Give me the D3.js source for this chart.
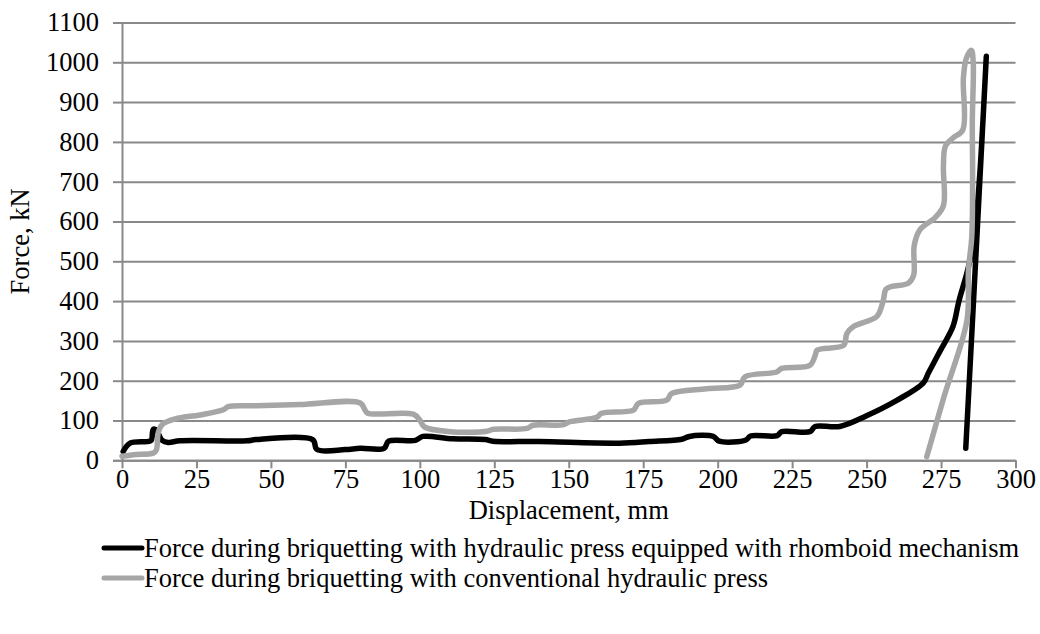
<!DOCTYPE html>
<html>
<head>
<meta charset="utf-8">
<script src="https://cdn.jsdelivr.net/npm/d3@7"></script>
<style>
    body { margin: 0; background: #fff; }
    svg text { font-family: "Liberation Serif", "Times New Roman", Tinos, "DejaVu Serif", serif; }
</style>
</head>
<body>
<div id="chart"></div>
<script>
// Displacement (mm) and force (kN)
let rhomboidDisp = [0.4, 2.7, 8.3, 9.8, 10.5, 11.5, 13.5, 15.5, 19.5, 42, 45, 64, 65.5, 75, 80, 88, 89.5, 98.5, 101, 111, 122, 124.5, 140, 167, 177, 188, 190.5, 198.5, 200.5, 209.5, 211, 220, 221.5, 231, 232.7, 241, 250, 260, 269, 270.8, 274.7, 279, 281, 284.2, 286.4, 288.1, 290.2, 283.3];
let rhomboidForce = [22, 43, 47, 50, 78, 76, 50, 45, 49, 49, 52, 52, 27, 27, 30, 30, 48, 50, 60, 54, 52, 48, 47, 43, 47, 53, 60, 60, 48, 51, 61, 62, 72, 72, 85, 85, 112, 150, 194, 220, 275, 336, 400, 486, 580, 729, 1015, 30];

let conventionalDisp = [0, 3.8, 10.5, 11.5, 12.2, 13.5, 18.4, 26.2, 34, 35.7, 45, 59.8, 80, 81.6, 82.5, 97.8, 100, 101.5, 110.2, 122.5, 124.7, 136, 138, 148, 150.4, 159.4, 161, 171.7, 173.4, 182.9, 184.6, 196.3, 207.5, 209.2, 219.8, 221.5, 231, 232.8, 233.4, 242.3, 243.4, 245.6, 253.4, 255, 255.7, 256.5, 258.5, 264, 265.8, 266, 268, 273, 275.8, 275.8, 276.5, 279, 282.3, 282.5, 283.5, 285.2, 285.8, 285.5, 285.6, 285.3, 284.2, 283.7, 276, 270.2];
let conventionalForce = [10, 14, 18, 25, 70, 90, 105, 114, 127, 135, 137, 140, 144, 126, 118, 116, 101, 84, 72, 73, 78, 80, 88, 89, 97, 108, 118, 126, 143, 151, 168, 180, 189, 210, 222, 231, 239, 265, 277, 289, 319, 336, 361, 386, 405, 430, 437, 445, 465, 540, 580, 610, 640, 740, 790, 810, 830, 960, 1010, 1030, 1000, 850, 700, 560, 478, 352, 160, 9];

let xTicks = [0, 25, 50, 75, 100, 125, 150, 175, 200, 225, 250, 275, 300];
let yTicks = [0, 100, 200, 300, 400, 500, 600, 700, 800, 900, 1000, 1100];

let seriesNames = [
    'Force during briquetting with hydraulic press equipped with rhomboid mechanism',
    'Force during briquetting with conventional hydraulic press'
];
let seriesColor = ['#000000', '#a6a6a6'];

let width = 1040;
let height = 634;
let margin = {top: 22.5, right: 24.5, bottom: 173.7, left: 122};
let plotW = width - margin.left - margin.right;
let plotH = height - margin.top - margin.bottom;
let gridColor = '#898989';
let fontSize = 26.5;

let svg = d3.select('#chart')
    .append('svg')
    .attr('width', width)
    .attr('height', height);

let plot = svg.append('g')
    .attr('transform', 'translate(' + margin.left + ',' + margin.top + ')');

// Scales
let x = d3.scaleLinear().domain([0, 300]).range([0, plotW]);
let y = d3.scaleLinear().domain([0, 1100]).range([plotH, 0]);

// Horizontal gridlines with left tick stubs
let yAxis = plot.append('g')
    .call(d3.axisLeft(y).tickValues(yTicks).tickSize(9).tickPadding(14).tickFormat(d3.format('d')));
yAxis.attr('font-family', null);
yAxis.select('.domain').attr('stroke', gridColor).attr('stroke-width', 2);
yAxis.selectAll('.tick line').attr('stroke', gridColor).attr('stroke-width', 2);
yAxis.selectAll('.tick')
    .append('line')
    .attr('x1', 0)
    .attr('x2', plotW)
    .attr('stroke', gridColor)
    .attr('stroke-width', 2);
yAxis.selectAll('.tick text')
    .attr('font-size', fontSize)
    .attr('fill', '#000');

// X axis with ticks hanging below
let xAxis = plot.append('g')
    .attr('transform', 'translate(0,' + plotH + ')')
    .call(d3.axisBottom(x).tickValues(xTicks).tickSize(8).tickPadding(1).tickSizeOuter(0));
xAxis.attr('font-family', null);
xAxis.select('.domain').attr('stroke', gridColor).attr('stroke-width', 2);
xAxis.selectAll('.tick line').attr('stroke', gridColor).attr('stroke-width', 2);
xAxis.selectAll('.tick text')
    .attr('font-size', fontSize)
    .attr('fill', '#000');

// Axis titles
svg.append('text')
    .attr('x', margin.left + plotW / 2)
    .attr('y', 519)
    .attr('text-anchor', 'middle')
    .attr('font-size', fontSize)
    .text('Displacement, mm');

svg.append('text')
    .attr('transform', 'translate(29,' + (margin.top + plotH / 2) + ') rotate(-90)')
    .attr('text-anchor', 'middle')
    .attr('font-size', fontSize)
    .text('Force, kN');

// Series lines (Excel style smoothing)
let line = d3.line()
    .x(d => x(d[0]))
    .y(d => y(d[1]))
    .curve(d3.curveCatmullRom.alpha(0.5));

let series = [
    d3.zip(rhomboidDisp, rhomboidForce),
    d3.zip(conventionalDisp, conventionalForce)
];

series.forEach(function(pts, i) {
    plot.append('path')
        .datum(pts)
        .attr('d', line)
        .attr('fill', 'none')
        .attr('stroke', seriesColor[i])
        .attr('stroke-width', 5.5)
        .attr('stroke-linejoin', 'round')
        .attr('stroke-linecap', 'round');
});

// Legend
let legend = svg.append('g');
seriesNames.forEach(function(name, i) {
    let ly = 548 + i * 30;
    legend.append('line')
        .attr('x1', 104)
        .attr('x2', 142)
        .attr('y1', ly)
        .attr('y2', ly)
        .attr('stroke', seriesColor[i])
        .attr('stroke-width', 5)
        .attr('stroke-linecap', 'round');
    legend.append('text')
        .attr('x', 144)
        .attr('y', ly)
        .attr('dy', '0.35em')
        .attr('font-size', fontSize)
        .text(name);
});
</script>
</body>
</html>
